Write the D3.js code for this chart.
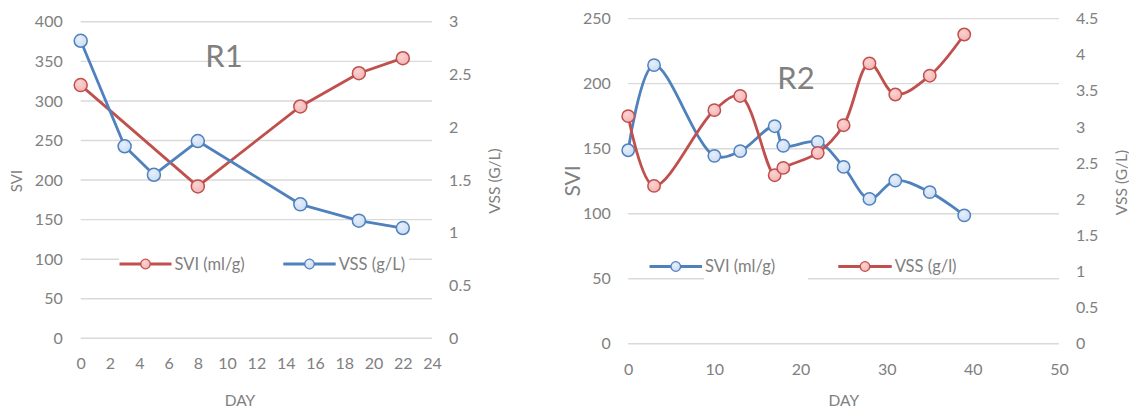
<!DOCTYPE html>
<html><head><meta charset="utf-8">
<script src="https://cdn.jsdelivr.net/npm/d3@7"></script>
<style>
html,body{margin:0;padding:0;background:#fff;}
svg text{font-family:Lato,"Open Sans",sans-serif;fill:#808080;}
</style></head>
<body>
<svg id="chart" width="1129" height="408"></svg>
<script>
// ---------- DATA ----------
// R1
const r1SviDays = [0, 8, 15, 19, 22];
const r1Svi = [320, 192, 293, 335, 354];
const r1VssDays = [0, 3, 5, 8, 15, 19, 22];
const r1Vss = [2.82, 1.82, 1.55, 1.87, 1.27, 1.115, 1.045];
const r1XTicks = [0, 2, 4, 6, 8, 10, 12, 14, 16, 18, 20, 22, 24];
const r1LeftTicks = [0, 50, 100, 150, 200, 250, 300, 350, 400];
const r1RightTicks = [0, 0.5, 1, 1.5, 2, 2.5, 3];
// R2
const r2Days = [0, 3, 10, 13, 17, 18, 22, 25, 28, 31, 35, 39];
const r2Svi = [148.8, 214.2, 144.5, 148.1, 167.3, 152.2, 155.2, 136, 111.4, 125.5, 116.6, 98.7];
const r2Vss = [3.15, 2.185, 3.233, 3.43, 2.333, 2.434, 2.642, 3.025, 3.88, 3.45, 3.71, 4.28];
const r2XTicks = [0, 10, 20, 30, 40, 50];
const r2LeftTicks = [0, 50, 100, 150, 200, 250];
const r2RightTicks = [0, 0.5, 1, 1.5, 2, 2.5, 3, 3.5, 4, 4.5];

// ---------- STYLE ----------
const RED = "#C0504D", RED_FILL = "#F4B3B2";
const BLUE = "#4F81BD", BLUE_FILL = "#C9DBF3";
const GRID = "#D9D9D9";

const svg = d3.select("#chart");
const defs = svg.append("defs");
function grad(id, c1, c2){
  const g = defs.append("radialGradient").attr("id", id).attr("cx","40%").attr("cy","35%").attr("r","70%");
  g.append("stop").attr("offset","0%").attr("stop-color", c1);
  g.append("stop").attr("offset","100%").attr("stop-color", c2);
}
grad("gBlue", "#E6EFFB", BLUE_FILL);
grad("gRed", "#FAD3D2", RED_FILL);

function drawPanel(cfg){
  const g = svg.append("g");
  const x = d3.scaleLinear().domain(cfg.xDomain).range(cfg.xRange);
  const yL = d3.scaleLinear().domain(cfg.yLDomain).range(cfg.yRange);
  const yR = d3.scaleLinear().domain(cfg.yRDomain).range(cfg.yRange);

  // gridlines
  g.append("g").selectAll("line").data(cfg.leftTicks).join("line")
    .attr("x1", cfg.xRange[0]).attr("x2", cfg.xRange[1])
    .attr("y1", d => yL(d)).attr("y2", d => yL(d))
    .attr("stroke", GRID).attr("stroke-width", 1.4);

  const fmt = d => String(d);
  const ax = (axis, tr) => {
    const a = g.append("g").attr("transform", tr).call(axis);
    a.select(".domain").remove();
    a.selectAll(".tick line").remove();
    a.selectAll("text").attr("font-size", 16).attr("font-family", "Lato").attr("fill", "#808080");
    return a;
  };
  ax(d3.axisLeft(yL).tickValues(cfg.leftTicks).tickFormat(fmt).tickSize(0).tickPadding(cfg.padL),
     `translate(${cfg.xRange[0]},0)`);
  ax(d3.axisRight(yR).tickValues(cfg.rightTicks).tickFormat(fmt).tickSize(0).tickPadding(cfg.padR),
     `translate(${cfg.xRange[1]},0)`);
  ax(d3.axisBottom(x).tickValues(cfg.xTicks).tickFormat(fmt).tickSize(0).tickPadding(cfg.padX),
     `translate(0,${cfg.yRange[0]})`);

  // series
  cfg.series.forEach(s => {
    const ys = s.axis === "L" ? yL : yR;
    const pts = s.days.map((d, i) => [x(d), ys(s.values[i])]);
    const line = d3.line().curve(cfg.curve);
    g.append("path").attr("d", line(pts)).attr("fill", "none")
      .attr("stroke", s.color).attr("stroke-width", 2.8).attr("stroke-linejoin", "round");
    g.append("g").selectAll("circle").data(pts).join("circle")
      .attr("cx", p => p[0]).attr("cy", p => p[1]).attr("r", cfg.markerR)
      .attr("fill", s.fill).attr("stroke", s.color).attr("stroke-width", 1.5);
  });

  // legend background
  g.append("rect").attr("x", cfg.legBg[0]).attr("y", cfg.legBg[1])
    .attr("width", cfg.legBg[2]).attr("height", cfg.legBg[3]).attr("fill", "#fff");
  cfg.legend.forEach(l => {
    g.append("line").attr("x1", l.x1).attr("x2", l.x2).attr("y1", cfg.legY).attr("y2", cfg.legY)
      .attr("stroke", l.color).attr("stroke-width", 2.8);
    g.append("circle").attr("cx", (l.x1 + l.x2) / 2).attr("cy", cfg.legY).attr("r", 4.8)
      .attr("fill", l.fill).attr("stroke", l.color).attr("stroke-width", 1.3);
    g.append("text").attr("x", l.x2 + 3).attr("y", cfg.legY).attr("dy", "0.36em")
      .attr("font-size", 16.5).text(l.label);
  });

  // titles
  g.append("text").attr("x", cfg.title[0]).attr("y", cfg.title[1]).attr("text-anchor", "middle")
    .attr("font-size", 31).text(cfg.titleText);
  g.append("text").attr("transform", `translate(${cfg.yLTitle[0]},${cfg.yLTitle[1]}) rotate(-90)`)
    .attr("text-anchor", "middle").attr("dy", "0.36em").attr("font-size", cfg.yLTitleSize).text("SVI");
  g.append("text").attr("transform", `translate(${cfg.yRTitle[0]},${cfg.yRTitle[1]}) rotate(-90)`)
    .attr("text-anchor", "middle").attr("dy", "0.36em").attr("font-size", 15.5).text("VSS (G/L)");
  g.append("text").attr("x", cfg.xTitle[0]).attr("y", cfg.xTitle[1]).attr("text-anchor", "middle")
    .attr("font-size", 15.5).text("DAY");
}

drawPanel({
  xDomain: [0, 24], xRange: [80.7, 432.1],
  yLDomain: [0, 400], yRDomain: [0, 3], yRange: [338.3, 21.8],
  leftTicks: r1LeftTicks, rightTicks: r1RightTicks, xTicks: r1XTicks,
  padL: 18, padR: 17, padX: 19,
  curve: d3.curveLinear, markerR: 6.5,
  series: [
    {days: r1SviDays, values: r1Svi, axis: "L", color: RED, fill: "url(#gRed)"},
    {days: r1VssDays, values: r1Vss, axis: "R", color: BLUE, fill: "url(#gBlue)"}
  ],
  legBg: [119, 250, 290, 28], legY: 264,
  legend: [
    {x1: 119.5, x2: 171.5, color: RED, fill: "url(#gRed)", label: "SVI (ml/g)"},
    {x1: 283.3, x2: 335.7, color: BLUE, fill: "url(#gBlue)", label: "VSS (g/L)"}
  ],
  title: [224, 66.5], titleText: "R1",
  yLTitle: [16.8, 181], yLTitleSize: 15, yRTitle: [494.6, 181], xTitle: [240, 405.5]
});

drawPanel({
  xDomain: [0, 50], xRange: [628.2, 1059],
  yLDomain: [0, 250], yRDomain: [0, 4.5], yRange: [343.8, 18.6],
  leftTicks: r2LeftTicks, rightTicks: r2RightTicks, xTicks: r2XTicks,
  padL: 17.4, padR: 17, padX: 20,
  curve: d3.curveCatmullRom.alpha(0.5), markerR: 6.2,
  series: [
    {days: r2Days, values: r2Svi, axis: "L", color: BLUE, fill: "url(#gBlue)"},
    {days: r2Days, values: r2Vss, axis: "R", color: RED, fill: "url(#gRed)"}
  ],
  legBg: [704, 252, 104, 30], legY: 266.5,
  legend: [
    {x1: 649.5, x2: 702, color: BLUE, fill: "url(#gBlue)", label: "SVI (ml/g)"},
    {x1: 838.3, x2: 891.7, color: RED, fill: "url(#gRed)", label: "VSS (g/l)"}
  ],
  title: [796, 89], titleText: "R2",
  yLTitle: [572.5, 181], yLTitleSize: 21, yRTitle: [1121, 182.5], xTitle: [843.8, 405.5]
});
</script>
</body></html>
